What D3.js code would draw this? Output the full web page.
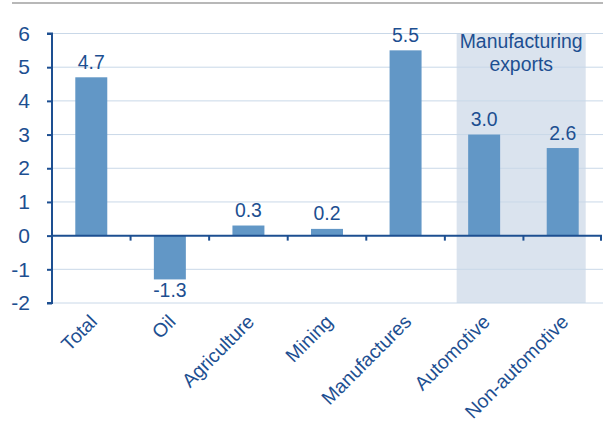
<!DOCTYPE html>
<html>
<head>
<meta charset="utf-8">
<script src="https://cdn.jsdelivr.net/npm/d3@7"></script>
<style>
  body { margin: 0; background: #fff; }
  svg { display: block; font-family: Arial, "Liberation Sans", sans-serif; }
</style>
</head>
<body>
<div id="chart"></div>
<script>
const categories = ['Total', 'Oil', 'Agriculture', 'Mining', 'Manufactures', 'Automotive', 'Non-automotive']
const values = [4.7, -1.3, 0.3, 0.2, 5.5, 3.0, 2.6]
const yTicks = [-2, -1, 0, 1, 2, 3, 4, 5, 6]
const shaded = ['Automotive', 'Non-automotive']
const shadedLabel = ['Manufacturing', 'exports']

const W = 603, H = 425
const margin = {top: 33.5, left: 52, right: 1, bottom: 122}
const textColor = '#1d4f91'
const barColor = '#6297c6'
const fontSize = 19.4

const svg = d3.select('#chart').append('svg')
  .attr('width', W)
  .attr('height', H)

// grey rule across the top
svg.append('line')
  .attr('x1', 12).attr('x2', W)
  .attr('y1', 3).attr('y2', 3)
  .attr('stroke', '#a0a0a0')
  .attr('stroke-width', 1.5)

const x = d3.scaleBand()
  .domain(categories)
  .range([margin.left, W - margin.right])
  .paddingInner(0.593)
  .paddingOuter(0.2965)
const step = x.step()
const y = d3.scaleLinear()
  .domain([-2, 6])
  .range([303, margin.top])

// shaded band behind the manufacturing exports
const sx0 = x(shaded[0]) - 11.5
const sx1 = x(shaded[1]) + x.bandwidth() + 7
svg.append('rect')
  .attr('x', sx0)
  .attr('y', y(6))
  .attr('width', sx1 - sx0)
  .attr('height', y(-2) - y(6))
  .attr('fill', '#dae3ee')

// gridlines
svg.append('g').selectAll('line')
  .data(yTicks.filter(d => d !== 0))
  .enter().append('line')
  .attr('x1', margin.left).attr('x2', W)
  .attr('y1', d => y(d)).attr('y2', d => y(d))
  .attr('stroke', '#c9d8e8')
  .attr('stroke-width', 1)

// shaded label
svg.append('text')
  .attr('x', (sx0 + sx1) / 2)
  .attr('y', 48)
  .attr('text-anchor', 'middle')
  .attr('fill', textColor)
  .attr('font-size', fontSize)
  .selectAll('tspan')
  .data(shadedLabel)
  .enter().append('tspan')
  .attr('x', (sx0 + sx1) / 2)
  .attr('dy', (d, i) => i ? 23 : 0)
  .text(d => d)

// bars
svg.append('g').selectAll('rect')
  .data(values)
  .enter().append('rect')
  .attr('x', (d, i) => x(categories[i]))
  .attr('width', x.bandwidth())
  .attr('y', d => y(Math.max(0, d)))
  .attr('height', d => Math.abs(y(d) - y(0)))
  .attr('fill', barColor)

// value labels
svg.append('g').selectAll('text')
  .data(values)
  .enter().append('text')
  .attr('x', (d, i) => x(categories[i]) + x.bandwidth() / 2)
  .attr('y', d => d >= 0 ? y(d) - 8.5 : y(d) + 18)
  .attr('text-anchor', 'middle')
  .attr('fill', textColor)
  .attr('font-size', fontSize)
  .text(d => d.toFixed(1))

// y axis
const yAxis = svg.append('g')
  .attr('transform', `translate(${margin.left},0)`)
  .call(d3.axisLeft(y).tickValues(yTicks).tickSize(5).tickPadding(17).tickFormat(d3.format('d')))
yAxis.select('.domain').attr('stroke', textColor).attr('stroke-width', 2)
  .attr('d', `M-5,${y(6)}H0V${y(-2)}H-5`)
yAxis.selectAll('.tick line').attr('stroke', textColor).attr('stroke-width', 2)
yAxis.selectAll('.tick text')
  .attr('fill', textColor)
  .attr('font-size', 21)
  .attr('font-family', 'Arial, "Liberation Sans", sans-serif')
  .text(d => d < 0 ? '-' + Math.abs(d) : d)

// zero line with category ticks
const x0 = margin.left, x1 = W - margin.right
svg.append('line')
  .attr('x1', x0).attr('x2', x1)
  .attr('y1', y(0)).attr('y2', y(0))
  .attr('stroke', textColor)
  .attr('stroke-width', 2)
svg.append('g').selectAll('line')
  .data(d3.range(categories.length + 1))
  .enter().append('line')
  .attr('x1', i => Math.min(x0 + i * step, x1 - 1))
  .attr('x2', i => Math.min(x0 + i * step, x1 - 1))
  .attr('y1', y(0)).attr('y2', y(0) + 5)
  .attr('stroke', textColor)
  .attr('stroke-width', 2)

// category labels, rotated
svg.append('g').selectAll('text')
  .data(categories)
  .enter().append('text')
  .attr('transform', d => `translate(${x(d) + x.bandwidth() / 2 + 7},${y(-2) + 20}) rotate(-45)`)
  .attr('text-anchor', 'end')
  .attr('fill', textColor)
  .attr('font-size', fontSize)
  .text(d => d)
</script>
</body>
</html>
